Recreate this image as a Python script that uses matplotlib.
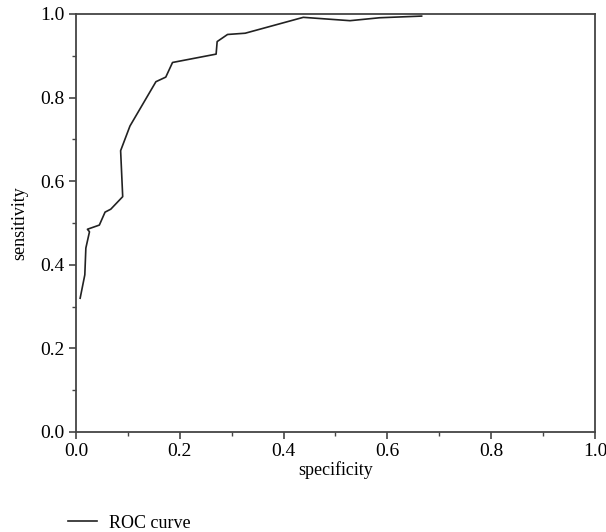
import matplotlib
matplotlib.use('Agg')
import matplotlib.pyplot as plt
from matplotlib.ticker import MultipleLocator

# Dados da curva ROC
specificity = [0.008, 0.017, 0.019, 0.026, 0.022, 0.045, 0.056, 0.067, 0.090,
               0.086, 0.104, 0.154, 0.173, 0.186, 0.270, 0.272, 0.292, 0.326,
               0.438, 0.528, 0.585, 0.666]
sensitivity = [0.320, 0.376, 0.440, 0.479, 0.485, 0.495, 0.526, 0.533, 0.563,
               0.673, 0.732, 0.838, 0.849, 0.884, 0.904, 0.934, 0.951, 0.954,
               0.992, 0.984, 0.991, 0.995]

plt.rcParams['font.family'] = ['Liberation Serif', 'DejaVu Serif']

fig = plt.figure(figsize=(6.06, 5.32), dpi=100)
ax = fig.add_axes([0.1254, 0.188, 0.8564, 0.7857])

ax.plot(specificity, sensitivity, color='#222222', linewidth=1.2, label='ROC curve')

ax.set_xlim(0, 1)
ax.set_ylim(0, 1)
ax.xaxis.set_major_locator(MultipleLocator(0.2))
ax.xaxis.set_minor_locator(MultipleLocator(0.1))
ax.yaxis.set_major_locator(MultipleLocator(0.2))
ax.yaxis.set_minor_locator(MultipleLocator(0.1))
ax.xaxis.set_major_formatter(lambda v, p: f'{v:.1f}')
ax.yaxis.set_major_formatter(lambda v, p: f'{v:.1f}')

ax.tick_params(which='major', direction='out', length=5, width=1.2,
               color='#444444', labelsize=14, pad=3)
ax.tick_params(which='minor', direction='out', length=3, width=1.0, color='#444444')

for s in ax.spines.values():
    s.set_color('#444444')
    s.set_linewidth(1.3)

ax.set_xlabel('specificity', fontsize=13, labelpad=1)
ax.set_ylabel('sensitivity', fontsize=13, labelpad=9)

fig.legend(loc='lower left', bbox_to_anchor=(0.085, -0.03), frameon=False,
           fontsize=13, handlelength=1.6, handletextpad=0.7)

fig.savefig('out.png', dpi=100)
